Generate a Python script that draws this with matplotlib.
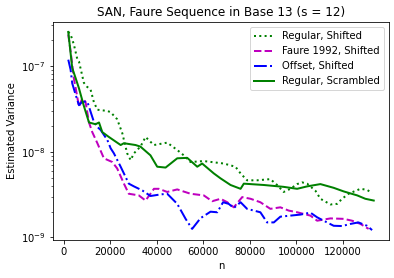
import numpy as np
import matplotlib
matplotlib.use('Agg')
import matplotlib.pyplot as plt

# Regular, Shifted (dotted green)
n_reg_shift = [2.0, 3.0, 4.4, 5.9, 6.6, 8.7, 9.9, 11.6, 13.0, 14.5, 16.6, 18.8, 20.2, 23.0,
               25.2, 27.3, 28.8, 30.2, 33.0, 35.2, 37.3, 38.8, 44.5, 48.8, 51.6, 54.5, 60.2,
               68.8, 73.8, 76.0, 78.8, 83.1, 88.8, 91.7, 94.5, 97.4, 100.3, 102.4, 104.6,
               108.2, 110.3, 114.6, 117.5, 119.6, 122.4, 127.5, 130.3, 132.5]
v_reg_shift = [2.51e-7, 2.34e-7, 1.79e-7, 1.2e-7, 1.13e-7, 6.4e-8, 5.8e-8, 5.3e-8, 3.8e-8,
               3.1e-8, 3.05e-8, 3.0e-8, 2.9e-8, 2.4e-8, 1.65e-8, 9.6e-9, 8.0e-9, 9.6e-9,
               1.15e-8, 1.49e-8, 1.31e-8, 1.2e-8, 1.28e-8, 1.05e-8, 9.1e-9, 7.6e-9, 7.8e-9,
               7.3e-9, 6.7e-9, 5.6e-9, 4.65e-9, 4.65e-9, 4.8e-9, 4.1e-9, 3.4e-9, 3.7e-9,
               4.2e-9, 4.4e-9, 4.25e-9, 3.5e-9, 2.83e-9, 2.43e-9, 2.47e-9, 2.83e-9, 3.24e-9,
               3.7e-9, 3.6e-9, 3.3e-9]

# Faure 1992, Shifted (dashed magenta)
n_faure = [2.0, 3.0, 4.4, 5.2, 6.6, 8.0, 9.4, 10.9, 12.3, 14.5, 17.3, 20.9, 23.0, 25.9,
           28.0, 32.3, 35.2, 37.3, 38.8, 40.9, 44.5, 48.8, 54.5, 60.2, 63.8, 67.4, 70.3,
           73.1, 76.7, 80.3, 84.5, 88.8, 93.1, 96.7, 100.3, 106.0, 108.9, 114.6, 120.3,
           123.9, 127.5, 131.0]
v_faure = [2.34e-7, 1.49e-7, 7.2e-8, 5.5e-8, 3.36e-8, 4.2e-8, 3.84e-8, 2.2e-8, 1.7e-8,
           1.26e-8, 8.4e-9, 7.6e-9, 6.4e-9, 4.25e-9, 3.24e-9, 3.1e-9, 2.7e-9, 3.24e-9,
           3.7e-9, 3.7e-9, 3.4e-9, 3.64e-9, 3.24e-9, 3.1e-9, 2.65e-9, 2.83e-9, 2.58e-9,
           2.25e-9, 2.96e-9, 2.83e-9, 2.58e-9, 2.16e-9, 2.25e-9, 2.06e-9, 1.97e-9, 1.8e-9,
           1.57e-9, 1.67e-9, 1.65e-9, 1.57e-9, 1.44e-9, 1.26e-9]

# Offset, Shifted (dash-dot blue)
n_offset = [2.0, 3.0, 3.7, 5.2, 6.6, 8.0, 10.2, 11.6, 13.0, 14.5, 15.9, 18.8, 20.2, 21.6,
            24.5, 28.0, 30.2, 33.8, 37.3, 41.6, 44.5, 48.8, 52.4, 55.2, 58.8, 63.1, 66.0,
            68.5, 70.9, 73.1, 76.0, 78.8, 84.5, 87.4, 90.3, 93.1, 97.4, 101.7, 106.0, 108.9,
            111.7, 116.0, 119.6, 123.2, 126.6, 130.3, 132.5]
v_offset = [1.19e-7, 9.1e-8, 6.3e-8, 4.6e-8, 3.5e-8, 3.84e-8, 3.84e-8, 2.93e-8, 2.24e-8,
            1.95e-8, 1.8e-8, 1.37e-8, 1.1e-8, 9.6e-9, 6.7e-9, 4.25e-9, 3.95e-9, 3.54e-9,
            3.05e-9, 3.18e-9, 3.24e-9, 2.47e-9, 1.65e-9, 1.26e-9, 1.68e-9, 2.0e-9, 1.97e-9,
            2.58e-9, 2.47e-9, 2.21e-9, 2.58e-9, 2.16e-9, 1.97e-9, 1.5e-9, 1.5e-9, 1.75e-9,
            1.8e-9, 1.85e-9, 1.95e-9, 1.72e-9, 1.57e-9, 1.37e-9, 1.36e-9, 1.44e-9, 1.5e-9,
            1.37e-9, 1.22e-9]

# Regular, Scrambled (solid green)
n_reg_scr = [2.0, 3.7, 5.2, 6.6, 8.6, 10.9, 13.7, 15.2, 16.6, 19.3, 24.5, 25.9, 30.9, 33.0,
             37.3, 40.2, 43.8, 48.8, 53.1, 57.4, 59.5, 64.5, 67.4, 71.7, 76.0, 77.4, 86.0,
             94.5, 100.3, 104.6, 110.3, 116.0, 120.3, 126.1, 129.6, 133.2]
v_reg_scr = [2.51e-7, 9.5e-8, 7.2e-8, 5.5e-8, 3.5e-8, 2.2e-8, 2.1e-8, 2.2e-8, 1.7e-8,
             1.5e-8, 1.2e-8, 1.26e-8, 1.2e-8, 1.15e-8, 9.1e-9, 6.7e-9, 6.55e-9, 8.4e-9,
             8.5e-9, 6.7e-9, 7.3e-9, 5.6e-9, 4.9e-9, 4.1e-9, 3.7e-9, 4.25e-9, 4.1e-9,
             3.9e-9, 3.7e-9, 3.95e-9, 4.2e-9, 3.8e-9, 3.45e-9, 3.1e-9, 2.83e-9, 2.7e-9]

fig = plt.figure(figsize=(394 / 72, 278 / 72), dpi=72)
ax = fig.add_axes([53 / 394, 38 / 278, 336 / 394, 218 / 278])

ax.plot(np.array(n_reg_shift) * 1000, v_reg_shift, 'g:', lw=2, label='Regular, Shifted')
ax.plot(np.array(n_faure) * 1000, v_faure, 'm--', lw=2, label='Faure 1992, Shifted')
ax.plot(np.array(n_offset) * 1000, v_offset, 'b-.', lw=2, label='Offset, Shifted')
ax.plot(np.array(n_reg_scr) * 1000, v_reg_scr, 'g-', lw=2, label='Regular, Scrambled')
ax.set_yscale('log')

ax.set_title('SAN, Faure Sequence in Base 13 (s = 12)')
ax.set_xlabel('n')
ax.set_ylabel('Estimated Variance')
ax.legend(loc='upper right')

fig.savefig('out.png', dpi=72)
